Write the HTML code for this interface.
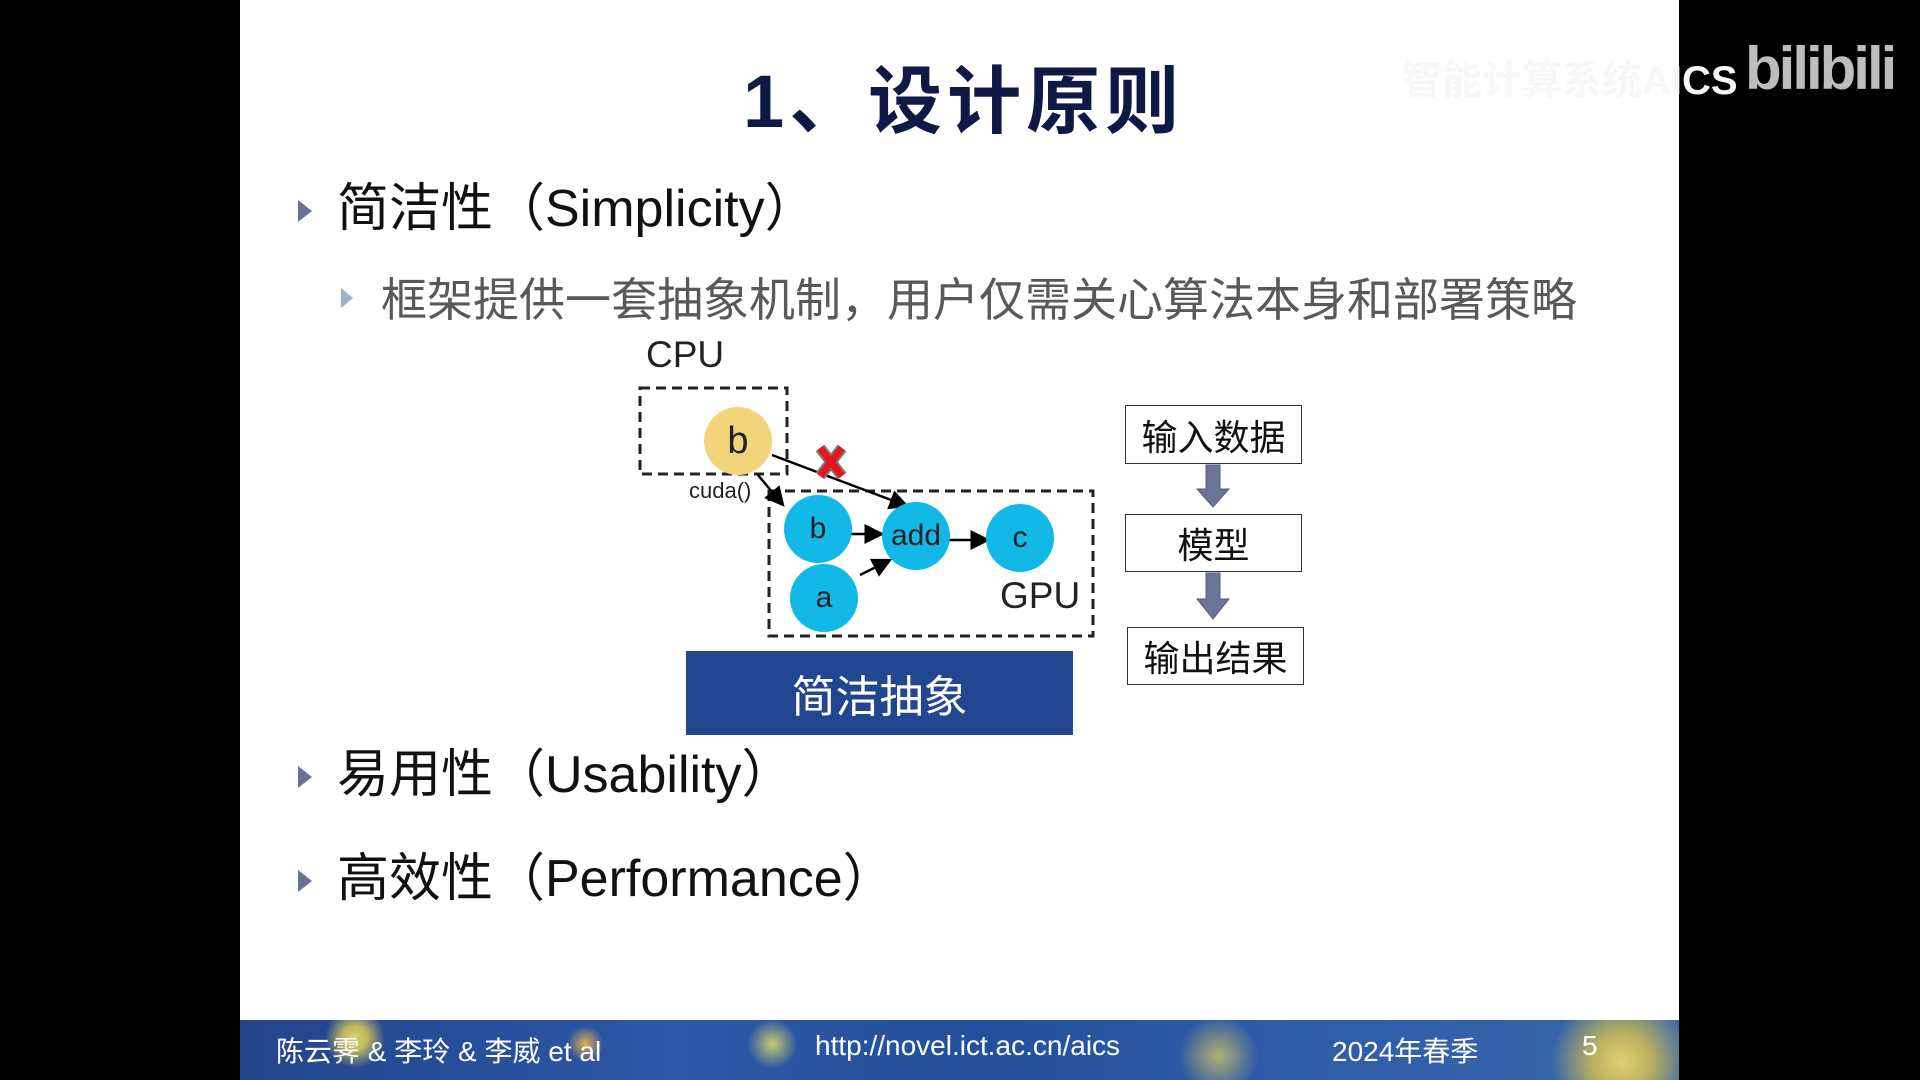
<!DOCTYPE html>
<html><head><meta charset="utf-8"><style>
*{margin:0;padding:0;box-sizing:border-box}
body{width:1920px;height:1080px;background:#000;position:relative;overflow:hidden;font-family:"Liberation Sans","Noto Sans CJK SC",sans-serif}
#slide{position:absolute;left:240px;top:0;width:1439px;height:1080px;background:#fff}
.abs{position:absolute;white-space:nowrap}
.tri{position:absolute;width:0;height:0;border-top:11px solid transparent;border-bottom:11px solid transparent;border-left:14px solid #6a7196}
.foot{position:absolute;left:240px;top:1020px;width:1439px;height:60px;
background:radial-gradient(circle at 8% 30%,#d8d070 0,#c0b860 12px,transparent 30px),radial-gradient(circle at 24% 40%,#e0b050 0,transparent 18px),radial-gradient(circle at 37% 40%,#c8c870 0,transparent 25px),radial-gradient(circle at 68% 60%,#b0b070 0,transparent 40px),radial-gradient(circle at 96% 70%,#e0d070 0,#b8b060 30px,transparent 70px),linear-gradient(90deg,#24448a,#2c58a8 30%,#24509a 50%,#2d5aa8 70%,#3a68a8)}
.foot span{position:absolute;top:10px;color:#fff;font-size:28px;font-family:"Liberation Sans Narrow","Liberation Sans","Noto Sans CJK SC",sans-serif}
.circ{position:absolute;border-radius:50%;display:flex;align-items:center;justify-content:center;font-size:30px;color:#222}
.bx{position:absolute;border:1.5px solid #333;background:#fff;display:flex;align-items:center;justify-content:center;font-size:36px;color:#111}
</style></head><body>
<div id="slide"></div>
<div class="abs" style="left:743px;top:42px;font-size:74px;font-weight:bold;color:#0e1a45;letter-spacing:5px">1、设计原则</div>
<div class="abs" style="left:1402px;top:48px;font-size:40px;color:#f7f7f7;font-weight:bold">智能计算系统AICS</div>
<div class="abs" style="left:1745px;top:34px;font-size:60px;font-weight:bold;color:#bdbdbd;letter-spacing:-3px">bilibili</div>

<div class="tri" style="left:298px;top:200px"></div>
<div class="abs" style="left:337px;top:166px;font-size:52px;color:#111">简洁性（Simplicity）</div>
<div class="tri" style="left:341px;top:288px;border-left-color:#9fb3c8;border-top-width:10px;border-bottom-width:10px;border-left-width:12px"></div>
<div class="abs" style="left:381px;top:264px;font-size:46px;color:#595959">框架提供一套抽象机制，用户仅需关心算法本身和部署策略</div>

<div class="tri" style="left:298px;top:766px"></div>
<div class="abs" style="left:337px;top:732px;font-size:52px;color:#111">易用性（Usability）</div>
<div class="tri" style="left:298px;top:870px"></div>
<div class="abs" style="left:337px;top:836px;font-size:52px;color:#111">高效性（Performance）</div>

<div class="abs" style="left:646px;top:334px;font-size:37px;color:#222">CPU</div>
<div class="abs" style="left:689px;top:478px;font-size:22px;color:#222">cuda()</div>
<div class="abs" style="left:1000px;top:575px;font-size:37px;color:#222">GPU</div>

<svg class="abs" style="left:0;top:0" width="1920" height="1080">
<defs><marker id="ar" markerWidth="8" markerHeight="8" refX="7" refY="4" orient="auto"><path d="M0,0 L8,4 L0,8 z" fill="#000"/></marker></defs>
<g stroke="#222" stroke-width="3" fill="none" stroke-dasharray="10 6">
<rect x="640" y="388" width="147" height="86"/>
<rect x="769" y="491" width="324" height="145"/>
</g>
<g stroke="#000" stroke-width="2.5" fill="none">
<line x1="772" y1="455" x2="907" y2="506" marker-end="url(#ar)"/>
<line x1="758" y1="475" x2="783" y2="505" marker-end="url(#ar)"/>
<line x1="848" y1="534" x2="882" y2="534" marker-end="url(#ar)"/>
<line x1="948" y1="540" x2="988" y2="540" marker-end="url(#ar)"/>
<line x1="860" y1="575" x2="890" y2="560" marker-end="url(#ar)"/>
</g>
<g stroke="#777" stroke-width="11"><line x1="820" y1="448" x2="842" y2="476"/><line x1="842" y1="448" x2="820" y2="476"/></g>
<g stroke="#e8141c" stroke-width="7"><line x1="820" y1="448" x2="842" y2="476"/><line x1="842" y1="448" x2="820" y2="476"/></g>
<g fill="#6b7599" stroke="#555b78" stroke-width="1">
<path d="M1206,465 h14 v24 h9 l-16,18 l-16,-18 h9 z"/>
<path d="M1206,573 h14 v26 h9 l-16,20 l-16,-20 h9 z"/>
</g>
</svg>

<div class="circ" style="left:704px;top:407px;width:68px;height:68px;background:#f2d57a;font-size:38px">b</div>
<div class="circ" style="left:784px;top:495px;width:68px;height:68px;background:#12b8e6">b</div>
<div class="circ" style="left:882px;top:502px;width:68px;height:68px;background:#12b8e6">add</div>
<div class="circ" style="left:986px;top:504px;width:68px;height:68px;background:#12b8e6">c</div>
<div class="circ" style="left:790px;top:564px;width:68px;height:68px;background:#12b8e6">a</div>

<div class="abs" style="left:686px;top:651px;width:387px;height:84px;background:#22468f;color:#fff;font-size:44px;display:flex;align-items:center;justify-content:center">简洁抽象</div>

<div class="bx" style="left:1125px;top:405px;width:177px;height:59px">输入数据</div>
<div class="bx" style="left:1125px;top:514px;width:177px;height:58px">模型</div>
<div class="bx" style="left:1127px;top:627px;width:177px;height:58px">输出结果</div>

<div class="foot">
<span style="left:36px">陈云霁 &amp; 李玲 &amp; 李威 et al</span>
<span style="left:575px">http://novel.ict.ac.cn/aics</span>
<span style="left:1092px">2024年春季</span>
<span style="left:1342px">5</span>
</div>
</body></html>
